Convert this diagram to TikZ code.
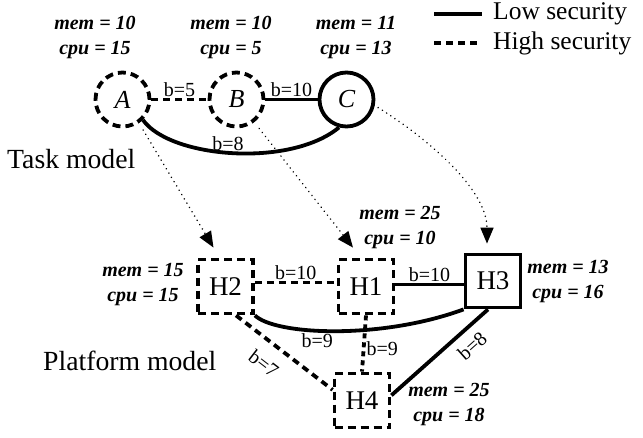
\documentclass[tikz,border=0pt]{standalone}
\usepackage{fontspec}
\setmainfont{Liberation Serif}
\usetikzlibrary{arrows.meta}
\begin{document}
\begin{tikzpicture}[x=1pt,y=-1pt,
  lowsec/.style={line width=3.8pt},
  hisec/.style={line width=3.8pt, dash pattern=on 7pt off 5pt},
  hisecsmall/.style={line width=3.8pt, dash pattern=on 5pt off 4pt},
  tasknode/.style={circle, draw, line width=3.8pt, minimum size=54pt, inner sep=0pt, font=\fontsize{26}{30}\selectfont\itshape},
  hostnode/.style={rectangle, draw, line width=3.8pt, minimum width=55pt, minimum height=54pt, inner sep=0pt, font=\fontsize{27}{30}\selectfont},
  hinode/.style={dash pattern=on 8pt off 5pt},
  res/.style={align=center, font=\fontsize{20}{25}\selectfont\bfseries\itshape},
  blab/.style={font=\fontsize{20}{24}\selectfont, inner sep=1pt},
  map/.style={line width=1.7pt, line cap=round, dash pattern=on 0.01pt off 5pt, -{Triangle[length=16pt,width=13pt]}},
  model/.style={font=\fontsize{27.7}{30}\selectfont, anchor=base west, inner sep=0pt},
  legtext/.style={font=\fontsize{25.5}{30}\selectfont, anchor=west, inner sep=0pt},
]
\useasboundingbox (0,0) rectangle (643,437);

% task model
\node[tasknode, hinode] (A) at (122.5,99.5) {A};
\node[tasknode, hinode] (B) at (236.5,99.5) {B};
\node[tasknode] (C) at (346.5,99.5) {C};

\node[res] (rA) at (95,37.5) {mem = 10\\cpu = 15};
\node[res] (rB) at (231,37.5) {mem = 10\\cpu = 5};
\node[res] (rC) at (356,37.5) {mem = 11\\cpu = 13};

\draw[hisec] (A) -- node[blab, above] {b=5} (B);
\draw[lowsec] (B) -- node[blab, above] {b=10} (C);
\draw[lowsec] (A.-45) .. controls (170,158) and (290,168) .. node[blab, pos=.48, above=-1pt] {b=8} (C.-105);

\node[model] (tm) at (7,168) {Task model};

% platform model
\node[hostnode, hinode] (H2) at (225.5,286.5) {H2};
\node[hostnode, hinode] (H1) at (366,286.5) {H1};
\node[hostnode, minimum height=53pt] (H3) at (493,281) {H3};
\node[hostnode, hinode] (H4) at (362,400.5) {H4};

\node[res] (rH2) at (143,284.5) {mem = 15\\cpu = 15};
\node[res] (rH1) at (400,227.5) {mem = 25\\cpu = 10};
\node[res] (rH3) at (568,281.5) {mem = 13\\cpu = 16};
\node[res] (rH4) at (449,405) {mem = 25\\cpu = 18};

\draw[hisec] ([yshift=4pt]H2.east) -- node[blab, above] {b=10} ([yshift=4pt]H1.west);
\draw[lowsec] ([yshift=2pt]H1.east) -- ([yshift=2pt]H1.east -| H3.west) node[blab, midway, above] {b=10};
\draw[lowsec] (H2.south east) .. controls (275,335) and (380,340) .. node[blab, pos=.42, below] {b=9} (H3.south west);
\draw[hisecsmall] (H1.south) -- node[blab, pos=.6, right] {b=9} (H4.north);
\draw[hisec] (H2.-70) -- node[blab, pos=.42, sloped, below=11pt] {b=7} (H4.160);
\draw[lowsec] (H3.-100) -- node[blab, pos=.28, sloped, below=7pt] {b=8} (H4.10);

\node[model] (pm) at (43,370) {Platform model};

% mapping
\draw[map, shorten <=8pt] (A.-55) -- ([shift={(-12,-10)}]H2.north);
\draw[map, shorten <=8pt] (B.-52) -- ([shift={(-13,-10)}]H1.north);
\draw[map, shorten <=4pt] (C.-12) .. controls (430,140) and (487,190) .. ([shift={(-6,-9)}]H3.north);

% legend
\coordinate (l1a) at (434,14);
\coordinate (l1b) at (482,14);
\coordinate (l2a) at (434,43);
\coordinate (l2b) at (482,43);
\draw[lowsec] (l1a) -- (l1b);
\draw[hisec] (l2a) -- (l2b);
\node[legtext] (lt1) at (493,14) {Low security};
\node[legtext] (lt2) at (493,43) {High security};
\end{tikzpicture}
\end{document}
